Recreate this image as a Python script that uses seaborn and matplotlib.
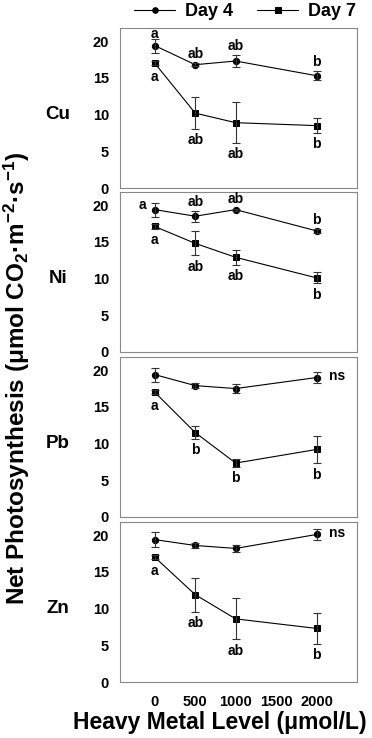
import numpy as np
import pandas as pd
import seaborn as sns
import matplotlib
matplotlib.use("Agg")
import matplotlib.pyplot as plt

# Data
levels = [0, 500, 1000, 2000]
metals = ["Cu", "Ni", "Pb", "Zn"]

day4_mean = {
    "Cu": [19.4, 16.8, 17.3, 15.3],
    "Ni": [19.4, 18.5, 19.4, 16.5],
    "Pb": [19.4, 17.9, 17.5, 19.0],
    "Zn": [19.4, 18.6, 18.2, 20.1],
}
day4_err = {
    "Cu": [0.95, 0.2, 0.85, 0.65],
    "Ni": [0.95, 0.75, 0.15, 0.3],
    "Pb": [0.95, 0.3, 0.6, 0.7],
    "Zn": [1.0, 0.3, 0.5, 0.7],
}
day7_mean = {
    "Cu": [17.0, 10.2, 8.9, 8.5],
    "Ni": [17.1, 14.8, 12.9, 10.1],
    "Pb": [17.0, 11.5, 7.35, 9.2],
    "Zn": [17.0, 11.9, 8.6, 7.3],
}
day7_err = {
    "Cu": [0.3, 2.2, 2.75, 1.0],
    "Ni": [0.3, 1.65, 1.05, 0.75],
    "Pb": [0.3, 0.9, 0.5, 1.9],
    "Zn": [0.3, 2.3, 2.8, 2.1],
}
# significance letters: (text, where)
day4_letters = {
    "Cu": [("a", "cap"), ("ab", "above"), ("ab", "above"), ("b", "above")],
    "Ni": [("a", "left"), ("ab", "above"), ("ab", "above"), ("b", "above")],
    "Pb": [None, None, None, ("ns", "right")],
    "Zn": [None, None, None, ("ns", "right")],
}
day7_letters = {
    "Cu": ["a", "ab", "ab", "b"],
    "Ni": ["a", "ab", "ab", "b"],
    "Pb": ["a", "b", "b", "b"],
    "Zn": ["a", "ab", "ab", "b"],
}

sns.set_style("white")
plt.rcParams["font.family"] = ["Liberation Sans", "DejaVu Sans"]
plt.rcParams["font.weight"] = "bold"
plt.rcParams["text.color"] = "black"
plt.rcParams["xtick.color"] = "black"
plt.rcParams["ytick.color"] = "black"
plt.rcParams["mathtext.fontset"] = "custom"
plt.rcParams["mathtext.rm"] = "Liberation Sans:bold"
plt.rcParams["mathtext.default"] = "rm"

W, H = 372, 738
fig = plt.figure(figsize=(W / 100, H / 100), dpi=100)

tops = [28, 192, 357, 522]
ph = 160
left, right = 120, 357
fs_letter = 10

axes = []
for i, m in enumerate(metals):
    ax = fig.add_axes([left / W, 1 - (tops[i] + ph) / H, (right - left) / W, ph / H])
    axes.append(ax)
    df = pd.DataFrame({
        "level": levels * 2,
        "value": day4_mean[m] + day7_mean[m],
        "err": day4_err[m] + day7_err[m],
        "day": ["Day 4"] * 4 + ["Day 7"] * 4,
    })
    sns.lineplot(data=df, x="level", y="value", hue="day", style="day",
                 markers={"Day 4": "o", "Day 7": "s"}, dashes=False,
                 palette=["black", "black"], linewidth=0.8, markersize=4.5,
                 markeredgecolor="black", ax=ax, legend=(i == 0))
    for d in ["Day 4", "Day 7"]:
        sub = df[df["day"] == d]
        ax.errorbar(sub["level"], sub["value"], yerr=sub["err"], fmt="none",
                    ecolor="#333333", elinewidth=0.8, capsize=3, capthick=0.8)

    # letters
    for j, x in enumerate(levels):
        item = day4_letters[m][j]
        if item is not None:
            txt, where = item
            y = day4_mean[m][j]
            e = day4_err[m][j]
            if where == "above":
                ax.annotate(txt, (x, y + e), xytext=(0, 1.5), textcoords="offset points",
                            ha="center", va="bottom", fontsize=fs_letter, fontweight="bold")
            elif where == "cap":
                ax.annotate(txt, (x, y + e), xytext=(0, -1.5), textcoords="offset points",
                            ha="center", va="bottom", fontsize=fs_letter, fontweight="bold")
            elif where == "left":
                ax.annotate(txt, (x, y + e), xytext=(-6, -2), textcoords="offset points",
                            ha="right", va="center", fontsize=fs_letter, fontweight="bold")
            else:
                ax.annotate(txt, (x, y), xytext=(9, 1), textcoords="offset points",
                            ha="left", va="center", fontsize=fs_letter, fontweight="bold")
        y7 = day7_mean[m][j]
        e7 = day7_err[m][j]
        ax.annotate(day7_letters[m][j], (x, y7 - e7), xytext=(0, -3), textcoords="offset points",
                    ha="center", va="top", fontsize=fs_letter, fontweight="bold")

    ax.set_xlim(-430, 2500)
    ax.set_ylim(0, 21.8)
    ax.set_xticks([0, 500, 1000, 1500, 2000])
    ax.set_yticks([0, 5, 10, 15, 20])
    ax.set_yticklabels(["0", "5", "10", "15", "20"], fontsize=10.5, fontweight="bold")
    if i == 3:
        ax.set_xticklabels(["0", "500", "1000", "1500", "2000"], fontsize=10.5, fontweight="bold")
    else:
        ax.set_xticklabels([])
    ax.tick_params(axis="x", direction="out", length=3, width=0.6, color="#666666", pad=6)
    ax.tick_params(axis="y", direction="out", length=2, width=0.6, color="#666666", pad=6)
    for s in ax.spines.values():
        s.set_color("#888888")
        s.set_linewidth(0.8)
    ax.set_xlabel("")
    ax.set_ylabel("")
    ax.text(-0.262, 0.46, m, transform=ax.transAxes, ha="center", va="center",
            fontsize=13.5, fontweight="bold")

# legend at top
handles, labels = axes[0].get_legend_handles_labels()
axes[0].get_legend().remove()
fig.legend(handles, labels, loc="center", bbox_to_anchor=(245 / W, 1 - 12 / H), ncol=2,
           frameon=False, handlelength=2.3, columnspacing=1.3,
           handletextpad=0.55, prop={"weight": "bold", "size": 13})
for h in fig.legends[0].legend_handles:
    h.set_markersize(4)

fig.text(220 / W, 1 - 722 / H, "Heavy Metal Level (μmol/L)", ha="center", va="center",
         fontsize=16.5, fontweight="bold")
fig.text(17 / W, 1 - 378 / H, "Net Photosynthesis (μmol CO$_2$·m$^{-2}$·s$^{-1}$)",
         ha="center", va="center", rotation=90, fontsize=17.5, fontweight="bold")

fig.savefig("out.png", dpi=100)
